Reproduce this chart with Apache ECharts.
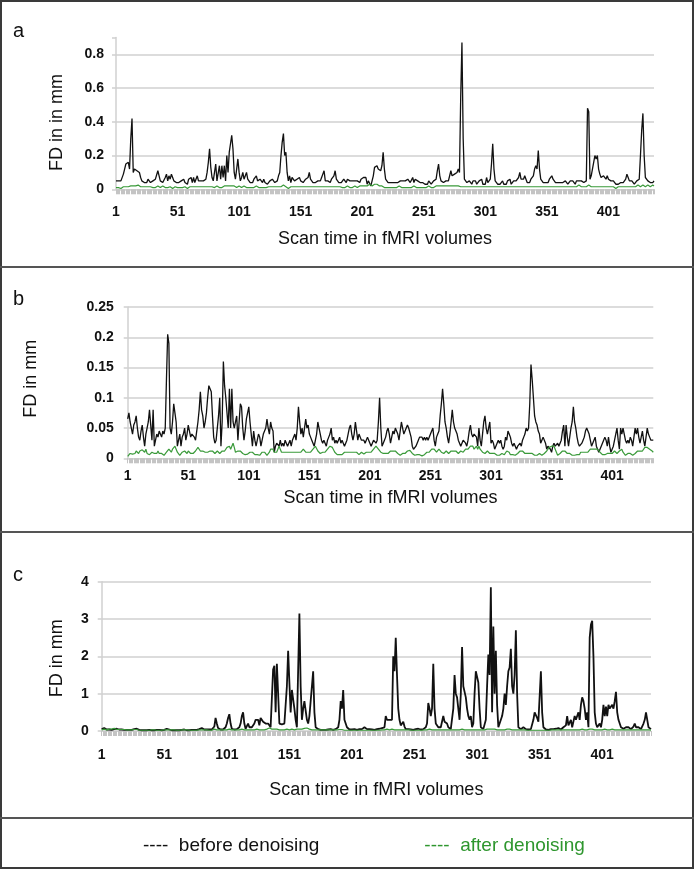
<!DOCTYPE html>
<html><head><meta charset="utf-8">
<script src="https://cdn.jsdelivr.net/npm/echarts@6/dist/echarts.min.js"></script>
<style>
html,body{margin:0;padding:0;background:#fff;}
#wrap{position:relative;width:694px;height:869px;overflow:hidden;}
#chart{position:absolute;left:0;top:0;width:694px;height:869px;}
.ln{position:absolute;background:#3a3a3a;}
</style></head>
<body><div id="wrap">
<div id="chart"></div>
<div class="ln" style="left:0;top:0;width:694px;height:2px"></div>
<div class="ln" style="left:0;bottom:0;width:694px;height:2px"></div>
<div class="ln" style="left:0;top:0;width:2px;height:869px"></div>
<div class="ln" style="right:0;top:0;width:2px;height:869px"></div>
<div class="ln" style="left:0;top:266px;width:694px;height:2px;background:#555"></div>
<div class="ln" style="left:0;top:531px;width:694px;height:2px;background:#555"></div>
<div class="ln" style="left:0;top:817px;width:694px;height:2px;background:#555"></div>
</div>
<script>
// ---------- data (FD in mm per fMRI volume) ----------
const beforeA = [
.05,.04,.05,.04,.05,.06,.09,.12,.15,.14, .16,.12,.3,.42,.1,.12,.12,.11,.12,.1,
.07,.05,.06,.04,.05,.04,.06,.05,.04,.05, .05,.04,.06,.07,.11,.08,.05,.06,.04,.05,
.07,.09,.05,.08,.06,.09,.07,.05,.06,.04, .03,.04,.03,.05,.04,.06,.04,.05,.03,.06,
.05,.07,.04,.07,.04,.05,.08,.05,.04,.05, .04,.05,.05,.06,.1,.16,.24,.13,.07,.05,
.06,.15,.05,.05,.14,.06,.14,.07,.14,.05, .2,.1,.22,.27,.32,.24,.1,.06,.12,.18,
.1,.05,.07,.1,.06,.05,.1,.06,.05,.04, .05,.04,.06,.05,.08,.05,.04,.06,.05,.04,
.06,.04,.05,.03,.04,.05,.04,.06,.05,.04, .05,.05,.08,.1,.2,.28,.33,.2,.22,.1,
.05,.08,.04,.07,.08,.05,.04,.06,.05,.07, .05,.06,.04,.05,.06,.05,.07,.1,.06,.05,
.04,.05,.04,.04,.05,.06,.05,.07,.09,.11, .05,.04,.05,.05,.04,.06,.05,.08,.11,.06,
.05,.04,.05,.04,.05,.06,.05,.04,.06,.07, .05,.06,.05,.06,.05,.04,.05,.06,.04,.06,
.05,.07,.06,.07,.03,.05,.06,.02,.05,.08, .13,.12,.14,.12,.13,.11,.14,.22,.12,.06,
.05,.04,.05,.04,.05,.04,.03,.04,.03,.04, .03,.05,.04,.05,.04,.05,.04,.06,.05,.04,
.05,.07,.04,.06,.07,.05,.05,.04,.05,.04, .05,.03,.04,.03,.05,.04,.03,.04,.05,.04,
.06,.11,.15,.08,.05,.04,.04,.03,.05,.04, .05,.06,.11,.08,.07,.09,.08,.1,.12,.1,
.55,.87,.3,.06,.05,.04,.04,.05,.04,.03, .05,.04,.05,.03,.04,.05,.04,.06,.03,.04,
.03,.07,.04,.05,.06,.15,.27,.12,.05,.04, .03,.04,.03,.04,.05,.03,.04,.03,.05,.06,
.06,.03,.04,.05,.04,.05,.06,.07,.1,.06, .05,.06,.08,.06,.04,.05,.04,.06,.07,.08,
.12,.14,.12,.23,.12,.06,.05,.04,.05,.04, .05,.04,.06,.05,.08,.06,.05,.04,.03,.04,
.03,.04,.03,.04,.03,.05,.04,.03,.04,.05, .04,.05,.04,.03,.05,.04,.05,.04,.05,.05,
.04,.05,.05,.48,.46,.06,.08,.12,.16,.2, .18,.2,.12,.09,.07,.06,.08,.07,.06,.08,
.06,.05,.05,.04,.05,.04,.03,.04,.03,.04, .04,.05,.04,.05,.06,.09,.07,.05,.04,.05,
.04,.03,.04,.05,.04,.06,.2,.35,.45,.2, .07,.06,.05,.05,.04,.05,.04,.05
];
const afterA = [
.01,.005,.01,.01,.005,.01,.015,.01,.015,.02, .015,.02,.02,.025,.02,.015,.02,.02,.025,.02,
.015,.02,.015,.01,.015,.02,.015,.01,.015,.01, .01,.015,.01,.015,.02,.015,.01,.015,.02,.015,
.01,.015,.01,.01,.015,.01,.005,.01,.015,.01, .01,.005,.01,.015,.01,.01,.015,.01,.005,.01,
.015,.01,.015,.02,.015,.01,.015,.01,.015,.02, .015,.02,.015,.01,.015,.02,.015,.02,.015,.01,
.01,.015,.02,.015,.01,.015,.01,.015,.02,.025, .02,.015,.02,.015,.02,.025,.02,.015,.01,.015,
.02,.015,.01,.015,.02,.015,.01,.005,.01,.015, .01,.015,.01,.015,.02,.015,.01,.015,.01,.015,
.01,.015,.01,.01,.015,.01,.015,.02,.015,.01, .015,.01,.015,.02,.015,.02,.025,.02,.015,.01,
.005,.01,.015,.01,.015,.01,.015,.01,.015,.02, .015,.01,.015,.01,.015,.02,.015,.01,.015,.02,
.015,.01,.015,.02,.015,.01,.015,.01,.015,.01, .015,.02,.015,.01,.015,.02,.015,.01,.015,.01,
.015,.01,.015,.01,.01,.015,.01,.015,.02,.015, .01,.015,.01,.015,.02,.015,.01,.015,.02,.015,
.02,.015,.02,.025,.02,.025,.03,.025,.02,.025, .03,.035,.03,.025,.02,.015,.02,.015,.01,.015,
.01,.015,.01,.005,.01,.015,.01,.015,.01,.015, .02,.015,.01,.015,.01,.015,.01,.015,.01,.015,
.01,.015,.02,.015,.01,.015,.01,.005,.01,.015, .01,.015,.01,.015,.02,.015,.01,.015,.01,.015,
.02,.015,.02,.025,.02,.015,.02,.015,.02,.025, .02,.015,.02,.015,.02,.025,.02,.015,.02,.015,
.015,.02,.015,.01,.015,.02,.015,.01,.015,.01, .015,.02,.015,.01,.015,.01,.015,.02,.015,.01,
.015,.01,.015,.02,.015,.02,.015,.01,.015,.01, .015,.01,.015,.02,.015,.01,.015,.01,.015,.02,
.015,.01,.015,.01,.015,.02,.015,.01,.015,.02, .015,.01,.015,.02,.015,.01,.015,.01,.015,.02,
.015,.02,.015,.02,.015,.01,.015,.01,.015,.01, .015,.02,.015,.01,.015,.02,.015,.01,.015,.01,
.015,.02,.015,.01,.015,.02,.015,.01,.015,.02, .015,.01,.015,.02,.015,.02,.025,.02,.015,.02,
.015,.02,.015,.02,.025,.02,.015,.01,.015,.02, .015,.01,.015,.02,.015,.01,.015,.02,.015,.01,
.015,.01,.015,.02,.015,.01,.005,.01,.015,.01, .015,.02,.015,.01,.015,.02,.015,.01,.015,.02,
.015,.02,.015,.02,.025,.02,.015,.02,.025,.02, .015,.02,.025,.02,.015,.02,.025,.02
];
const beforeB = [
.065,.075,.06,.05,.04,.055,.06,.07,.05,.035, .03,.045,.055,.035,.02,.04,.05,.06,.08,.08,
.03,.08,.02,.03,.04,.035,.045,.04,.035,.045, .04,.05,.13,.205,.19,.05,.04,.06,.09,.075,
.06,.02,.03,.04,.02,.035,.04,.05,.03,.04, .055,.045,.035,.04,.04,.035,.03,.045,.06,.08,
.11,.08,.07,.05,.06,.075,.1,.12,.12,.11, .07,.035,.025,.03,.03,.07,.1,.02,.06,.16,
.12,.1,.1,.05,.115,.05,.115,.06,.05,.06, .07,.03,.06,.09,.085,.05,.03,.045,.065,.075,
.085,.06,.04,.02,.045,.03,.02,.03,.04,.035, .02,.03,.04,.04,.05,.065,.05,.04,.06,.05,
.045,.01,.02,.025,.025,.02,.03,.02,.025,.02, .03,.025,.02,.025,.03,.02,.03,.03,.04,.03,
.05,.085,.06,.04,.05,.035,.05,.065,.05,.055, .04,.035,.03,.025,.02,.03,.04,.06,.05,.04,
.03,.025,.03,.025,.02,.03,.035,.04,.05,.03, .035,.025,.03,.025,.03,.035,.025,.03,.025,.02,
.025,.03,.04,.05,.055,.04,.03,.04,.06,.045, .03,.04,.035,.03,.03,.03,.025,.03,.035,.03,
.025,.02,.025,.03,.03,.025,.03,.06,.1,.05, .02,.025,.03,.035,.045,.05,.04,.025,.035,.045,
.04,.05,.045,.04,.03,.045,.06,.05,.04,.045, .05,.055,.05,.05,.035,.02,.015,.015,.02,.025,
.03,.035,.035,.035,.03,.035,.03,.035,.03,.03, .04,.045,.05,.03,.02,.035,.04,.045,.07,.09,
.115,.09,.06,.05,.035,.025,.04,.06,.08,.06, .05,.05,.04,.03,.025,.02,.025,.03,.03,.025,
.02,.03,.045,.055,.04,.035,.04,.04,.035,.02, .05,.03,.02,.04,.06,.07,.05,.04,.05,.06,
.025,.03,.025,.015,.02,.025,.03,.025,.03,.02, .015,.02,.035,.03,.045,.04,.035,.025,.02,.025,
.02,.015,.02,.02,.025,.02,.03,.035,.04,.05, .045,.05,.09,.155,.13,.1,.07,.06,.055,.045,
.04,.025,.03,.035,.035,.025,.015,.02,.02,.015, .01,.02,.025,.02,.02,.025,.02,.02,.03,.045,
.055,.02,.055,.035,.02,.035,.05,.06,.085,.06, .05,.035,.025,.02,.02,.025,.03,.035,.045,.05,
.045,.04,.03,.02,.025,.03,.035,.02,.015,.01, .015,.02,.025,.03,.035,.03,.02,.035,.02,.01,
.015,.02,.03,.04,.05,.03,.015,.05,.04,.05, .04,.03,.025,.03,.025,.035,.03,.02,.035,.05,
.04,.05,.035,.025,.035,.045,.03,.02,.035,.05, .04,.035,.03,.03,.03
];
const afterB = [
.003,.005,.008,.01,.007,.005,.008,.012,.01,.008, .012,.015,.014,.015,.01,.015,.008,.005,.006,.008,
.01,.012,.008,.01,.008,.012,.008,.005,.008,.01, .005,.008,.01,.012,.015,.012,.01,.015,.018,.02,
.015,.01,.008,.005,.007,.01,.008,.012,.01,.008, .012,.01,.008,.006,.008,.01,.012,.015,.018,.015,
.012,.01,.012,.013,.01,.012,.01,.008,.012,.015, .012,.01,.008,.01,.012,.01,.008,.01,.012,.01,
.012,.015,.018,.02,.02,.015,.02,.025,.018,.01, .01,.012,.015,.012,.01,.008,.005,.006,.008,.007,
.008,.01,.008,.01,.008,.006,.005,.006,.008,.005, .008,.01,.012,.01,.008,.005,.008,.01,.015,.018,
.015,.01,.012,.01,.015,.02,.015,.01,.008,.01, .012,.01,.008,.01,.008,.01,.012,.01,.008,.01,
.008,.01,.012,.01,.012,.015,.012,.01,.008,.01, .008,.01,.012,.015,.018,.02,.018,.012,.01,.008,
.008,.01,.008,.01,.012,.015,.018,.02,.02,.018, .015,.01,.008,.006,.005,.006,.008,.006,.008,.01,
.008,.01,.012,.01,.008,.01,.012,.01,.008,.01, .008,.006,.008,.01,.008,.007,.008,.01,.008,.01,
.012,.01,.012,.015,.018,.02,.02,.015,.012,.01, .01,.008,.01,.008,.007,.008,.01,.012,.015,.012,
.015,.012,.01,.008,.006,.005,.006,.008,.01,.008, .01,.012,.015,.013,.01,.008,.006,.005,.005,.006,
.005,.006,.005,.004,.005,.006,.008,.01,.008,.01, .012,.015,.013,.015,.012,.01,.012,.015,.012,.01,
.01,.008,.01,.012,.01,.008,.01,.012,.01,.012, .01,.012,.01,.008,.01,.012,.01,.01,.012,.015,
.012,.015,.018,.02,.018,.02,.015,.018,.02,.015, .02,.015,.012,.01,.01,.008,.01,.012,.01,.008,
.01,.008,.01,.008,.006,.005,.006,.005,.006,.008, .005,.006,.008,.012,.015,.01,.006,.005,.006,.008,
.005,.006,.008,.01,.012,.01,.012,.01,.008,.01, .008,.01,.008,.007,.008,.006,.005,.006,.005,.006,
.008,.006,.005,.006,.008,.01,.012,.015,.018,.02, .02,.018,.02,.015,.01,.005,.006,.008,.01,.012,
.015,.012,.01,.008,.01,.008,.006,.005,.006,.005, .008,.006,.005,.006,.01,.008,.01,.012,.01,.008,
.01,.012,.015,.018,.015,.018,.015,.012,.015,.012, .01,.008,.006,.005,.006,.005,.008,.01,.008,.01,
.008,.01,.012,.01,.008,.01,.012,.01,.015,.01, .008,.005,.006,.008,.01,.008,.006,.005,.006,.008,
.01,.012,.015,.012,.01,.012,.015,.018,.02,.018, .02,.015,.018,.012,.01
];
const beforeC = [
.05,.06,.08,.05,.04,.03,.04,.03,.03,.04, .05,.07,.06,.05,.04,.03,.04,.03,.03,.02,
.03,.02,.03,.04,.03,.03,.05,.08,.06,.04, .03,.03,.02,.03,.02,.03,.02,.02,.03,.02,
.02,.03,.02,.02,.03,.02,.03,.02,.02,.03, .03,.04,.06,.07,.04,.03,.02,.03,.02,.03,
.02,.03,.02,.02,.03,.02,.04,.03,.02,.03, .02,.03,.03,.02,.03,.02,.03,.04,.05,.06,
.08,.06,.04,.03,.04,.03,.04,.05,.04,.06, .12,.35,.2,.08,.05,.04,.05,.04,.06,.1,
.2,.35,.45,.2,.06,.05,.04,.06,.05,.08, .1,.2,.4,.5,.2,.06,.1,.2,.1,.08,
.1,.15,.2,.3,.25,.3,.15,.35,.3,.25, .2,.2,.15,.2,.15,.1,.12,1.65,1.75,.5,
1.8,1.0,.2,.15,.18,.2,.2,.15,1.2,2.15, 1.3,.5,1.1,1.15,.6,.3,.1,.15,3.15,1.2,
.3,.6,.8,.75,.3,.2,.4,.8,1.2,1.6, .5,.1,.15,.05,.04,.03,.05,.03,.04,.03,
.03,.04,.03,.05,.04,.03,.04,.05,.06,.1, .3,.8,.6,1.1,.3,.2,.1,.05,.04,.03,
.04,.03,.05,.04,.03,.04,.05,.06,.05,.08, .1,.07,.05,.04,.05,.03,.04,.05,.03,.04,
.05,.04,.06,.05,.08,.1,.1,.4,.3,.35, .3,.25,.3,2.0,1.6,2.5,1.5,.6,.3,.15,
.1,.25,.12,.05,.04,.05,.03,.04,.05,.03, .04,.05,.03,.06,.05,.04,.07,.05,.04,.1,
.2,.75,.6,.4,.6,1.8,.6,.2,.15,.1, .08,.1,.15,.4,.25,.3,.2,.1,.06,.05,
.1,.6,1.5,1.0,.9,.6,.3,1.0,2.25,1.2, 1.2,.9,.6,.4,.3,.4,.1,.2,1.0,1.6,
1.65,1.3,.6,.1,.05,.05,.05,.3,1.2,2.05, 1.5,3.85,.5,2.8,1.0,2.15,.7,.1,.05,.3,
.4,.6,1.0,.7,1.2,1.6,1.7,2.2,1.2,1.0, 1.5,2.7,1.0,.1,.06,.05,.08,.1,.06,.05,
.05,.04,.06,.05,.1,.3,.5,.55,.35,.25, .2,1.6,.5,.1,.05,.04,.05,.03,.04,.05,
.03,.05,.04,.06,.05,.08,.05,.04,.06,.1, .1,.15,.4,.15,.2,.3,.1,.25,.4,.3,
.35,.5,.3,.7,.9,.8,.6,.3,.5,.1, 2.5,2.85,2.95,2.0,.5,.2,.1,.15,.2,.1,
.3,.7,.4,.65,.4,.7,.6,.65,.7,.6, .8,1.05,.5,.3,.2,.1,.08,.06,.05,.1,
.15,.1,.08,.05,.1,.12,.2,.1,.08,.1, .06,.05,.1,.2,.3,.5,.3,.1,.05,.05
];
const afterC = [
.03,.04,.05,.04,.03,.04,.05,.06,.05,.08, .07,.05,.04,.03,.04,.05,.04,.03,.04,.03,
.03,.02,.03,.04,.03,.03,.04,.05,.04,.03, .02,.03,.02,.03,.02,.03,.02,.03,.02,.02,
.03,.02,.03,.02,.02,.03,.02,.03,.02,.03, .03,.04,.03,.02,.03,.02,.03,.02,.03,.02,
.02,.03,.02,.02,.03,.02,.03,.02,.03,.02, .02,.03,.02,.03,.02,.03,.02,.03,.03,.04,
.03,.02,.03,.02,.03,.03,.02,.03,.02,.04, .05,.04,.03,.02,.03,.02,.03,.02,.03,.04,
.03,.04,.05,.04,.03,.02,.03,.02,.03,.04, .03,.04,.05,.04,.03,.02,.03,.04,.03,.04,
.03,.04,.03,.04,.05,.04,.03,.04,.03,.04, .03,.04,.05,.06,.08,.06,.05,.04,.05,.04,
.05,.04,.03,.04,.03,.04,.03,.04,.05,.04, .03,.04,.05,.04,.03,.04,.05,.06,.05,.04,
.05,.06,.07,.1,.08,.06,.05,.04,.03,.04, .03,.02,.03,.02,.03,.02,.03,.02,.03,.02,
.03,.02,.03,.02,.03,.02,.03,.02,.03,.03, .04,.03,.04,.03,.02,.03,.02,.03,.02,.03,
.02,.03,.02,.03,.02,.03,.02,.03,.02,.03, .02,.03,.02,.03,.02,.03,.02,.03,.02,.03,
.02,.03,.02,.03,.03,.04,.03,.04,.05,.04, .03,.04,.05,.04,.03,.04,.03,.02,.03,.02,
.03,.02,.03,.02,.03,.02,.03,.02,.02,.03, .02,.03,.02,.03,.02,.03,.02,.03,.03,.04,
.03,.04,.05,.04,.03,.04,.03,.02,.03,.02, .03,.02,.03,.04,.03,.02,.03,.02,.03,.02,
.03,.04,.03,.04,.03,.02,.03,.04,.05,.04, .03,.04,.03,.02,.03,.02,.03,.02,.03,.04,
.03,.04,.03,.02,.03,.02,.03,.04,.05,.06, .05,.04,.05,.04,.05,.04,.03,.02,.03,.02,
.03,.04,.03,.04,.05,.04,.05,.04,.03,.04, .03,.04,.03,.02,.03,.02,.03,.02,.03,.02,
.02,.03,.02,.03,.02,.03,.02,.03,.02,.03, .02,.03,.02,.03,.02,.03,.02,.03,.02,.02,
.03,.02,.03,.02,.03,.02,.03,.02,.03,.02, .03,.02,.03,.04,.03,.02,.03,.02,.03,.04,
.03,.04,.03,.04,.05,.04,.03,.04,.03,.04, .05,.06,.05,.04,.03,.02,.03,.02,.03,.04,
.03,.04,.05,.04,.03,.04,.03,.04,.05,.04, .03,.02,.03,.02,.03,.02,.03,.02,.03,.02,
.03,.02,.03,.02,.03,.02,.03,.02,.03,.02, .03,.02,.03,.04,.03,.02,.03,.02,.03,.02
];
const volumesA = beforeA.map((_, i) => String(i + 1));
const volumesB = beforeB.map((_, i) => String(i + 1));
const volumesC = beforeC.map((_, i) => String(i + 1));
const panelLetters = ['a', 'b', 'c'];
const yTitles = ['FD in in mm', 'FD in mm', 'FD in mm'];
const xTitle = 'Scan time in fMRI volumes';
const seriesNames = ['before denoising', 'after denoising'];

// ---------- chart ----------
const FONT = 'Liberation Sans, Arial, sans-serif';
const GRID_C = '#d0d0d0';
const BLACK = '#111111';
const GREEN = '#3a9a3a';

function xAxis(gi, cats, margin, gap) {
  return {
    gridIndex: gi, type: 'category', data: cats, boundaryGap: false,
    axisLine: { show: true, lineStyle: { color: GRID_C, width: 1 } },
    axisTick: { show: true, interval: 0, length: 5, lineStyle: { color: '#c4c4c4', width: 1 } },
    axisLabel: { interval: 49, margin: margin, fontFamily: FONT, fontWeight: 'bold', fontSize: 14, color: '#111' },
    splitLine: { show: false },
    name: xTitle, nameLocation: 'middle', nameGap: gap,
    nameTextStyle: { fontFamily: FONT, fontSize: 18, color: '#111' }
  };
}
function yAxis(gi, max, interval, nLines, margin, gap, title, pad) {
  const cols = [];
  for (let i = 0; i < nLines; i++) cols.push(GRID_C);
  cols.push('rgba(0,0,0,0)');
  return {
    gridIndex: gi, type: 'value', min: 0, max: max, interval: interval,
    axisLine: { show: true, lineStyle: { color: GRID_C, width: 1.5 } },
    axisTick: { show: true, length: 4, lineStyle: { color: GRID_C, width: 1.5 } },
    axisLabel: { margin: margin, fontFamily: FONT, fontWeight: 'bold', fontSize: 14, color: '#111',
      formatter: v => (Math.abs(v / interval - Math.round(v / interval)) < 1e-6 ? String(+v.toFixed(3)) : '') },
    splitLine: { show: true, lineStyle: { color: cols, width: 1.5 } },
    name: title, nameLocation: 'middle', nameRotate: 90, nameGap: gap,
    nameTextStyle: { fontFamily: FONT, fontSize: 18, color: '#111', padding: pad }
  };
}
function line(name, xi, data, color, width) {
  return { name: name, type: 'line', xAxisIndex: xi, yAxisIndex: xi, data: data,
    showSymbol: false, symbol: 'none', lineStyle: { color: color, width: width }, itemStyle: { color: color },
    emphasis: { disabled: true }, animation: false };
}

const chart = echarts.init(document.getElementById('chart'), null, { renderer: 'canvas' });
chart.setOption({
  backgroundColor: 'transparent',
  animation: false,
  title: [
    { text: panelLetters[0], left: 8, top: 16, textStyle: { fontFamily: FONT, fontSize: 20, fontWeight: 'normal', color: '#111' } },
    { text: panelLetters[1], left: 8, top: 284, textStyle: { fontFamily: FONT, fontSize: 20, fontWeight: 'normal', color: '#111' } },
    { text: panelLetters[2], left: 8, top: 560, textStyle: { fontFamily: FONT, fontSize: 20, fontWeight: 'normal', color: '#111' } }
  ],
  legend: {
    top: 831, left: 133, itemGap: 100, icon: 'none', itemWidth: 0, itemHeight: 0,
    selectedMode: false,
    formatter: n => '----  ' + n,
    textStyle: { fontFamily: FONT, fontSize: 19 },
    data: [
      { name: seriesNames[0], textStyle: { color: '#111' } },
      { name: seriesNames[1], textStyle: { color: '#2e962e' } }
    ]
  },
  grid: [
    { left: 116, top: 37.5, width: 538, height: 151.8 },
    { left: 127.7, top: 307, width: 525.6, height: 151.3 },
    { left: 101.7, top: 581.7, width: 549.3, height: 149.3 }
  ],
  xAxis: [ xAxis(0, volumesA, 16, 41), xAxis(1, volumesB, 11, 31), xAxis(2, volumesC, 17, 50) ],
  yAxis: [
    yAxis(0, 0.9, 0.2, 5, 12, 50, yTitles[0], [0, 18, 0, 0]),
    yAxis(1, 0.25, 0.05, 6, 14, 88, yTitles[1], [0, 0, 0, 8]),
    yAxis(2, 4, 1, 5, 13, 36, yTitles[2], [0, 4, 0, 0])
  ],
  series: [
    line(seriesNames[0], 0, beforeA, BLACK, 1.3),
    line(seriesNames[1], 0, afterA, GREEN, 1.2),
    line(seriesNames[0], 1, beforeB, BLACK, 1.3),
    line(seriesNames[1], 1, afterB, GREEN, 1.2),
    line(seriesNames[0], 2, beforeC, BLACK, 1.8),
    line(seriesNames[1], 2, afterC, GREEN, 1.2)
  ]
});
</script>
</body></html>
